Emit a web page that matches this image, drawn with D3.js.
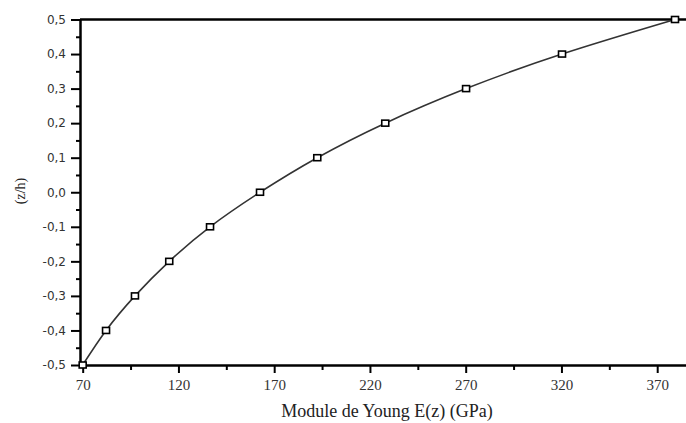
<!DOCTYPE html>
<html>
<head>
<meta charset="utf-8">
<script src="https://cdn.jsdelivr.net/npm/d3@7/dist/d3.min.js"></script>
<style>
  body { margin: 0; background: #fff; }
  svg { display: block; }
</style>
</head>
<body>
<script>
// z/h positions and Young modulus
const zh = [-0.5, -0.4, -0.3, -0.2, -0.1, 0.0, 0.1, 0.2, 0.3, 0.4, 0.5];
const young = [70, 82.2, 97.3, 115.2, 136.5, 162.6, 192.5, 228, 270.2, 320.3, 379.3];

const xTicks = [70, 120, 170, 220, 270, 320, 370];
const xMinor = [95, 145, 195, 245, 295, 345];
const yTicks = [-0.5, -0.4, -0.3, -0.2, -0.1, 0.0, 0.1, 0.2, 0.3, 0.4, 0.5];
const yMinor = [-0.45, -0.35, -0.25, -0.15, -0.05, 0.05, 0.15, 0.25, 0.35, 0.45];

document.addEventListener("DOMContentLoaded", function () {
  const width = 686, height = 423;

  const svg = d3.select("body").append("svg")
    .attr("width", width)
    .attr("height", height);

  const x = d3.scaleLinear().domain([68.6, 386.5]).range([80, 688.8]);
  const y = d3.scaleLinear().domain([-0.5, 0.5]).range([365, 19.5]);

  // french decimal comma, plain hyphen for the minus
  const fmt = d => d3.format(".1f")(d).replace(".", ",").replace("\u2212", "-");

  // minor ticks first, majors on top
  svg.append("g")
    .attr("transform", "translate(0,365)")
    .call(d3.axisBottom(x).tickValues(xMinor).tickSize(5).tickFormat(""))
    .call(g => g.select(".domain").remove())
    .call(g => g.selectAll("line").attr("stroke", "#000").attr("stroke-width", 2));

  svg.append("g")
    .attr("transform", "translate(80,0)")
    .call(d3.axisLeft(y).tickValues(yMinor).tickSize(4).tickFormat(""))
    .call(g => g.select(".domain").remove())
    .call(g => g.selectAll("line").attr("stroke", "#000").attr("stroke-width", 2));

  const xAxis = svg.append("g")
    .attr("transform", "translate(0,365)")
    .call(d3.axisBottom(x).tickValues(xTicks).tickSize(8).tickPadding(6).tickSizeOuter(0));
  xAxis.select(".domain").attr("stroke", "#000").attr("stroke-width", 2.5);
  xAxis.selectAll("line").attr("stroke", "#000").attr("stroke-width", 2);
  xAxis.selectAll("text")
    .attr("font-family", "'Liberation Serif', 'Times New Roman', serif")
    .attr("font-size", 15)
    .attr("fill", "#333");

  const yAxis = svg.append("g")
    .attr("transform", "translate(80,0)")
    .call(d3.axisLeft(y).tickValues(yTicks).tickSize(9).tickPadding(5).tickSizeOuter(0).tickFormat(fmt));
  yAxis.select(".domain").attr("stroke", "#000").attr("stroke-width", 2.5);
  yAxis.selectAll("line").attr("stroke", "#000").attr("stroke-width", 2);
  yAxis.selectAll("text")
    .attr("font-family", "'DejaVu Sans', sans-serif")
    .attr("font-size", 12)
    .attr("fill", "#333");

  // top frame line
  svg.append("line")
    .attr("x1", 80).attr("x2", width)
    .attr("y1", y(0.5)).attr("y2", y(0.5))
    .attr("stroke", "#000").attr("stroke-width", 2.5);

  const pts = zh.map((z, i) => ({ z: z, e: young[i] }));

  const line = d3.line()
    .x(d => x(d.e))
    .y(d => y(d.z))
    .curve(d3.curveNatural);

  svg.append("path")
    .datum(pts)
    .attr("d", line)
    .attr("fill", "none")
    .attr("stroke", "#333")
    .attr("stroke-width", 1.6);

  svg.selectAll("rect.pt")
    .data(pts)
    .join("rect")
    .attr("class", "pt")
    .attr("x", d => x(d.e) - 3.5)
    .attr("y", d => y(d.z) - 3)
    .attr("width", 7)
    .attr("height", 6)
    .attr("fill", "#fff")
    .attr("stroke", "#000")
    .attr("stroke-width", 1.6);

  svg.append("text")
    .attr("x", 387)
    .attr("y", 417)
    .attr("text-anchor", "middle")
    .attr("font-family", "'Liberation Serif', 'Times New Roman', serif")
    .attr("font-size", 18)
    .attr("fill", "#222")
    .text("Module de Young E(z) (GPa)");

  svg.append("text")
    .attr("transform", "translate(25,191) rotate(-90)")
    .attr("text-anchor", "middle")
    .attr("font-family", "'Liberation Serif', 'Times New Roman', serif")
    .attr("font-size", 14)
    .attr("fill", "#222")
    .text("(z/h)");
});
</script>
</body>
</html>
